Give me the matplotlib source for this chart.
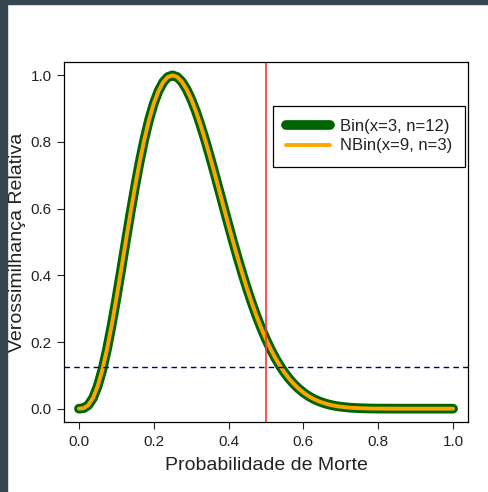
"""
Relative likelihood for the death probability: Bin(x=3, n=12) vs NBin(x=9, n=3).
Output: out.png
"""

import matplotlib.pyplot as plt
from matplotlib.patches import Rectangle

# ── data ─────────────────────────────────────────────────────────────────────

p_values = [
    0.0000, 0.0125, 0.0250, 0.0375, 0.0500, 0.0625, 0.0750, 0.0875, 0.1000, 0.1125,
    0.1250, 0.1375, 0.1500, 0.1625, 0.1750, 0.1875, 0.2000, 0.2125, 0.2250, 0.2375,
    0.2500, 0.2625, 0.2750, 0.2875, 0.3000, 0.3125, 0.3250, 0.3375, 0.3500, 0.3625,
    0.3750, 0.3875, 0.4000, 0.4125, 0.4250, 0.4375, 0.4500, 0.4625, 0.4750, 0.4875,
    0.5000, 0.5125, 0.5250, 0.5375, 0.5500, 0.5625, 0.5750, 0.5875, 0.6000, 0.6125,
    0.6250, 0.6375, 0.6500, 0.6625, 0.6750, 0.6875, 0.7000, 0.7250, 0.7500, 0.7750,
    0.8000, 0.8500, 0.9000, 0.9500, 1.0000,
]
rel_lik_bin = [
    0.0000, 0.0015, 0.0106, 0.0319, 0.0672, 0.1164, 0.1783, 0.2505, 0.3302, 0.4146,
    0.5006, 0.5853, 0.6663, 0.7414, 0.8088, 0.8671, 0.9153, 0.9527, 0.9793, 0.9949,
    1.0000, 0.9951, 0.9810, 0.9585, 0.9287, 0.8926, 0.8512, 0.8056, 0.7569, 0.7062,
    0.6541, 0.6018, 0.5498, 0.4989, 0.4496, 0.4024, 0.3577, 0.3158, 0.2768, 0.2409,
    0.2081, 0.1784, 0.1518, 0.1282, 0.1073, 0.0891, 0.0733, 0.0598, 0.0483, 0.0386,
    0.0305, 0.0239, 0.0185, 0.0141, 0.0106, 0.0079, 0.0058, 0.0029, 0.0014, 0.0006,
    0.0002, 0.0000, 0.0000, 0.0000, 0.0000,
]
rel_lik_nbin = list(rel_lik_bin)  # same likelihood kernel, p^3 (1-p)^9

cutoff = 0.125
p_null = 0.5

x_ticks = [0.0, 0.2, 0.4, 0.6, 0.8, 1.0]
y_ticks = [0.0, 0.2, 0.4, 0.6, 0.8, 1.0]

# ── plot ──────────────────────────────────────────────────────────────────────

plt.rcParams["font.family"] = ["Liberation Sans", "DejaVu Sans"]

fig = plt.figure(figsize=(4.88, 4.92), dpi=100)
fig.patch.set_facecolor("white")
# dark frame strips on the left and top edges
fig.patches.append(Rectangle((0, 0), 7 / 488, 1, transform=fig.transFigure,
                             color="#37474F", zorder=-1))
fig.patches.append(Rectangle((0, 1 - 4 / 492), 1, 4 / 492, transform=fig.transFigure,
                             color="#37474F", zorder=-1))

ax = fig.add_axes([64 / 488, 1 - 422 / 492, 404 / 488, 360 / 492])

ax.plot(p_values, rel_lik_bin, color="#006400", lw=7.0,
        solid_capstyle="round", solid_joinstyle="round", label="Bin(x=3, n=12)")
ax.plot(p_values, rel_lik_nbin, color="#FFA500", lw=2.8,
        solid_capstyle="round", solid_joinstyle="round", label="NBin(x=9, n=3)")
ax.axhline(cutoff, color="#000080", lw=1.0, ls=(0, (4, 3)))
ax.axvline(p_null, color="#FF3333", lw=1.2)

ax.set_xlim(-0.04, 1.04)
ax.set_ylim(-0.04, 1.04)
ax.set_xticks(x_ticks)
ax.set_yticks(y_ticks)
ax.set_xticklabels([f"{t:.1f}" for t in x_ticks])
ax.set_yticklabels([f"{t:.1f}" for t in y_ticks])
ax.tick_params(direction="out", length=5, width=0.8, labelsize=11,
               colors="#222222", pad=4)
for sp in ax.spines.values():
    sp.set_linewidth(0.9)
    sp.set_color("black")

ax.set_xlabel("Probabilidade de Morte", fontsize=14, color="#222222", labelpad=6)
ax.set_ylabel("Verossimilhança Relativa", fontsize=14, color="#222222", labelpad=3)

leg = ax.legend(loc="upper right", bbox_to_anchor=(0.993, 0.878), fontsize=12,
                frameon=True, fancybox=False, edgecolor="black", framealpha=1,
                handlelength=2.6, handletextpad=0.6, borderpad=0.8,
                labelspacing=0.25, borderaxespad=0)
leg.get_frame().set_linewidth(0.9)
for txt in leg.get_texts():
    txt.set_color("#222222")

fig.savefig("out.png", dpi=100)
plt.close(fig)
